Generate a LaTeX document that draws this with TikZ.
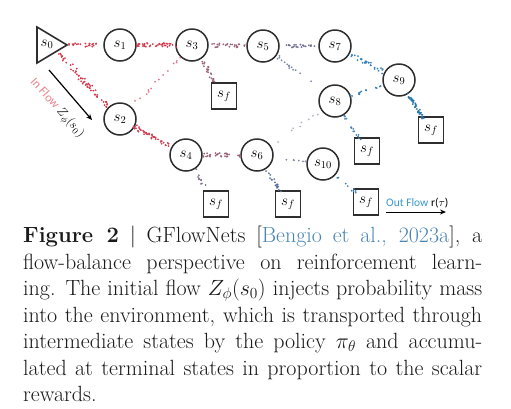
\documentclass[tikz,border=0pt]{standalone}
\usepackage{fix-cm}
\usepackage{fontspec}
\newfontfamily\calibri{Carlito}
\usetikzlibrary{calc,arrows.meta}
\definecolor{edge}{HTML}{2E2E2E}
\definecolor{fred}{HTML}{D63A4C}
\definecolor{fredl}{HTML}{DC7A8A}
\definecolor{fmauve}{HTML}{9A6278}
\definecolor{fmauveb}{HTML}{86708E}
\definecolor{fpurp}{HTML}{6E6E96}
\definecolor{fgrayb}{HTML}{7C88A4}
\definecolor{fblue}{HTML}{3A82BA}
\definecolor{fbluedk}{HTML}{2A78B0}
\definecolor{flight}{HTML}{B4B8C6}
\definecolor{inpink}{HTML}{E8868E}
\definecolor{outblue}{HTML}{3A9AD2}
\definecolor{citeblue}{HTML}{4A86B4}
\definecolor{captxt}{HTML}{1A1A1A}
\newcommand\flowdots[7]{%
  \path ($(#1)!#3!(#2)$) coordinate (fa) ($(#2)!#4!(#1)$) coordinate (fb);
  \foreach \i in {1,...,#6}{%
    \pgfmathsetmacro\flowt{rnd}%
    \pgfmathsetmacro\flowdx{#7*(2*rnd-1)}%
    \pgfmathsetmacro\flowdy{#7*(2*rnd-1)}%
    \fill[#5] ($(fa)!\flowt!(fb)+(\flowdx,\flowdy)$) circle (1pt);}}
\begin{document}
\begin{tikzpicture}[x=1pt,y=-1pt,
  state/.style={circle,draw=edge,line width=1.5pt,minimum size=32pt,inner sep=0pt,
    font=\fontsize{15}{15}\selectfont},
  term/.style={rectangle,draw=edge,line width=1.4pt,minimum width=25pt,minimum height=26pt,
    inner sep=0pt,font=\fontsize{15}{15}\selectfont},
  capline/.style={anchor=base west,inner sep=0pt,text=captxt,
    font=\fontsize{22}{26.5}\selectfont},
  flowarrow/.style={-{Stealth[length=6pt,width=5pt]},line width=1.2pt,black}]
\fill[white] (0,0) rectangle (511,408);
\useasboundingbox (0,0) rectangle (511,408);
\pgfmathsetseed{11}
% source triangle
\draw[edge,line width=1.6pt,line join=miter] (37,27) -- (37,63) -- (67,45) -- cycle;
\node[font=\fontsize{15}{15}\selectfont,inner sep=0pt] (s0) at (47,44) {$s_0$};
\coordinate (s0tip) at (67,45);
\coordinate (s0low) at (60,55);
% states
\node[state] (s1) at (120,45) {$s_1$};
\node[state] (s3) at (192,45) {$s_3$};
\node[state] (s2) at (120,119) {$s_2$};
\node[state] (s4) at (186,155) {$s_4$};
\node[state] (s5) at (263,46) {$s_5$};
\node[state] (s7) at (335,46) {$s_7$};
\node[state] (s9) at (399,80) {$s_9$};
\node[state] (s8) at (335,101) {$s_8$};
\node[state] (s6) at (257,155) {$s_6$};
\node[state] (s10) at (323,164) {$s_{10}$};
% terminal states
\node[term] (f3) at (224,96) {$s_f$};
\node[term] (f4) at (216,204) {$s_f$};
\node[term] (f6) at (288,204) {$s_f$};
\node[term] (f10) at (366,202) {$s_f$};
\node[term] (f8) at (367,151) {$s_f$};
\node[term] (f9) at (431,130) {$s_f$};
% flows
\flowdots{s0tip}{s1}{1pt}{18pt}{fred}{22}{2}
\flowdots{s1}{s3}{17pt}{17pt}{fred}{40}{2}
\flowdots{s0low}{s2}{0pt}{16pt}{fred}{60}{2.5}
\flowdots{s2}{s3}{17pt}{18pt}{fredl}{14}{1.5}
\flowdots{s2}{s4}{16pt}{16pt}{fred!85!fmauve}{45}{2.2}
\flowdots{s3}{s5}{17pt}{17pt}{fmauve}{26}{2}
\flowdots{s3}{f3}{16pt}{16pt}{fmauve}{22}{2}
\flowdots{s4}{s6}{17pt}{17pt}{fmauve}{32}{2}
\flowdots{s4}{f4}{16pt}{15pt}{fmauveb}{10}{2}
\flowdots{s5}{s7}{18pt}{17pt}{fpurp}{22}{1.8}
\flowdots{s5}{s8}{17pt}{17pt}{fgrayb}{14}{1.6}
\flowdots{s7}{s9}{16pt}{16pt}{fblue}{28}{1.8}
\flowdots{s8}{s9}{17pt}{17pt}{fblue}{14}{1.5}
\flowdots{s9}{f9}{16pt}{14pt}{fbluedk}{45}{1.6}
\flowdots{s8}{f8}{16pt}{14pt}{fblue!80!fgrayb}{16}{1.5}
\flowdots{s8}{s6}{22pt}{22pt}{flight}{8}{1.5}
\flowdots{s6}{s10}{30pt}{17pt}{fgrayb}{6}{1.2}
\flowdots{s6}{f6}{16pt}{14pt}{fpurp!70!fblue}{18}{1.6}
\flowdots{s10}{f10}{17pt}{14pt}{fblue!80!fgrayb}{9}{1.3}
% in flow
\coordinate (ina) at (49,70);
\coordinate (inb) at (92,120);
\draw[flowarrow] (ina) -- (inb);
\node[rotate=-48,inner sep=0pt,font=\calibri\fontsize{12.5}{12.5}\selectfont] (inlbl) at (57,108)
  {{\color{inpink}In Flow} $Z_\phi(s_0)$};
% out flow
\node[anchor=base west,inner sep=0pt,font=\calibri\fontsize{11.5}{11.5}\selectfont] (outlbl) at (386,206)
  {{\color{outblue}Out Flow} r($\tau$)};
\coordinate (outa) at (386,212);
\coordinate (outb) at (446,212);
\draw[flowarrow,line width=1pt] (outa) -- (outb);
% caption
\node[capline] (c1) at (23,242.5) {\makebox[459pt][s]{\textbf{Figure 2} | GFlowNets [{\color{citeblue}Bengio et al., 2023a}], a}};
\node[capline] (c2) at (23,269) {\makebox[459pt][s]{flow-balance perspective on reinforcement learn-}};
\node[capline] (c3) at (23,295.5) {\makebox[459pt][s]{ing. The initial flow $Z_\phi(s_0)$ injects probability mass}};
\node[capline] (c4) at (23,322) {\makebox[459pt][s]{into the environment, which is transported through}};
\node[capline] (c5) at (23,348.5) {\makebox[459pt][s]{intermediate states by the policy $\pi_\theta$ and accumu-}};
\node[capline] (c6) at (23,375) {\makebox[459pt][s]{lated at terminal states in proportion to the scalar}};
\node[capline] (c7) at (23,401.5) {rewards.};
\end{tikzpicture}
\end{document}
